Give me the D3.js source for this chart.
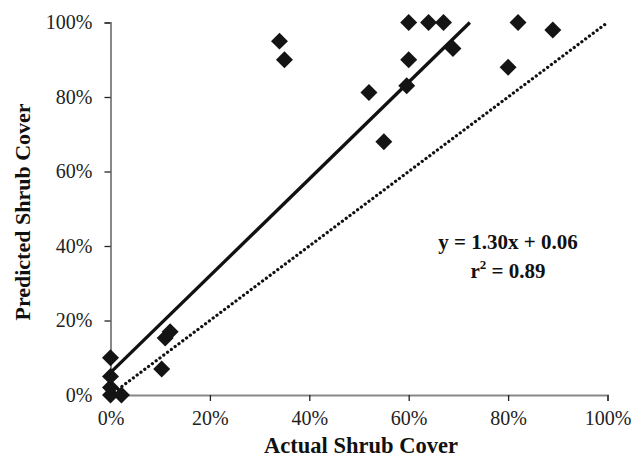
<!DOCTYPE html>
<html><head><meta charset="utf-8">
<script src="https://cdn.jsdelivr.net/npm/d3@7"></script>
<style>body{margin:0;background:#fff}svg{display:block}</style>
</head><body>
<svg id="c" width="642" height="459"></svg>
<script>
const actual =    [0, 0, 0, 0, 2.2, 10.3, 11, 12, 34, 35, 52, 55, 60, 64, 67, 60, 59.6, 68.9, 82, 89, 80];
const predicted = [0, 2, 5, 10, 0, 7, 15.3, 17, 95, 90, 81.2, 68, 100, 100, 100, 90, 83, 93, 100, 98, 88];
const ticks = [0, 20, 40, 60, 80, 100];
const slope = 1.30, intercept = 6;
const eqLabel = "y = 1.30x + 0.06";
const r2Label = "0.89";

const svg = d3.select("#c");
const x = d3.scaleLinear().domain([0, 100]).range([110.5, 607.5]);
const y = d3.scaleLinear().domain([0, 100]).range([395, 22.5]);
const font = "'Liberation Serif','Times New Roman',serif";

const xa = svg.append("g").attr("transform", "translate(0,395)")
  .call(d3.axisBottom(x).tickValues(ticks).tickFormat(d => d + "%").tickSize(6).tickPadding(10));
const ya = svg.append("g").attr("transform", "translate(110.5,0)")
  .call(d3.axisLeft(y).tickValues(ticks).tickFormat(d => d + "%").tickSize(6).tickPadding(12));
[xa, ya].forEach(a => {
  a.select(".domain").attr("stroke", "#888").attr("stroke-width", 2);
  a.selectAll(".tick line").attr("stroke", "#222").attr("stroke-width", 1.3);
  a.selectAll(".tick text").attr("font-family", font).attr("font-size", 20).attr("fill", "#222");
});

// 1:1 dotted line
svg.append("line")
  .attr("x1", x(0)).attr("y1", y(0)).attr("x2", x(100)).attr("y2", y(100))
  .attr("stroke", "#111").attr("stroke-width", 3.2).attr("stroke-linecap", "round")
  .attr("stroke-dasharray", "0.1 4.65");

// regression line
const xEnd = (100 - intercept) / slope;
svg.append("line")
  .attr("x1", x(0)).attr("y1", y(intercept)).attr("x2", x(xEnd)).attr("y2", y(100))
  .attr("stroke", "#111").attr("stroke-width", 3.3);

// points
const sym = d3.symbol().type(d3.symbolSquare).size(144);
svg.append("g").selectAll("path").data(actual.map((a, i) => [a, predicted[i]])).join("path")
  .attr("d", sym)
  .attr("transform", d => `translate(${x(d[0])},${y(d[1])}) rotate(45)`)
  .attr("fill", "#141414");

// annotations
svg.append("text").attr("x", 508).attr("y", 249).attr("text-anchor", "middle")
  .attr("font-family", font).attr("font-weight", "bold").attr("font-size", 21).attr("fill", "#111")
  .text(eqLabel);
const t2 = svg.append("text").attr("x", 508).attr("y", 278).attr("text-anchor", "middle")
  .attr("font-family", font).attr("font-weight", "bold").attr("font-size", 21).attr("fill", "#111");
t2.append("tspan").text("r");
t2.append("tspan").attr("font-size", 13).attr("dy", -9).text("2");
t2.append("tspan").attr("dy", 9).text(" = " + r2Label);

svg.append("text").attr("x", 361).attr("y", 453).attr("text-anchor", "middle")
  .attr("font-family", font).attr("font-weight", "bold").attr("font-size", 22.5).attr("fill", "#111")
  .text("Actual Shrub Cover");
svg.append("text").attr("transform", "translate(30,212) rotate(-90)").attr("text-anchor", "middle")
  .attr("font-family", font).attr("font-weight", "bold").attr("font-size", 22).attr("fill", "#111")
  .text("Predicted Shrub Cover");
</script>
</body></html>
